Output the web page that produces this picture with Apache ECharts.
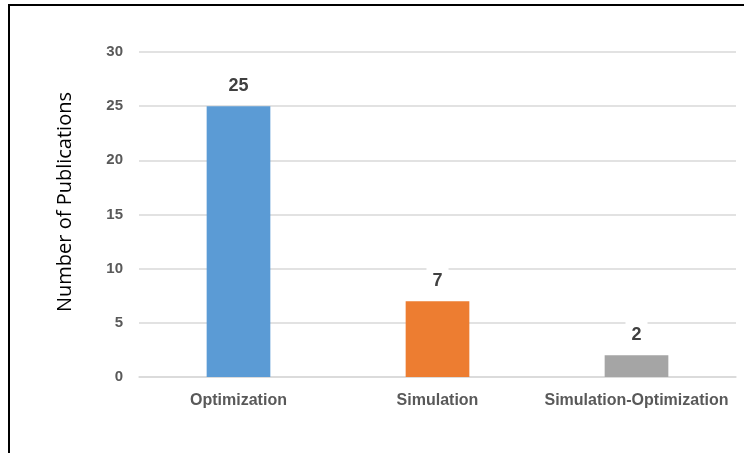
<!DOCTYPE html>
<html>
<head>
<meta charset="utf-8">
<script src="https://cdn.jsdelivr.net/npm/echarts@6/dist/echarts.min.js"></script>
<style>
  html, body { margin: 0; padding: 0; background: #fff; }
  #frame { position: absolute; left: 8px; top: 4px; width: 740px; height: 460px;
           border-left: 2px solid #000; border-top: 2px solid #000; }
  #chart { position: absolute; left: 0; top: 0; width: 744px; height: 453px; }
</style>
</head>
<body>
<div id="frame"></div>
<div id="chart"></div>
<script>
const categories = ['Optimization', 'Simulation', 'Simulation-Optimization'];
const publications = [25, 7, 2];
const barColors = ['#5B9BD5', '#ED7D31', '#A5A5A5'];
const yTicks = [0, 5, 10, 15, 20, 25, 30];
const yTitle = 'Number of Publications';

const chart = echarts.init(document.getElementById('chart'), null, { renderer: 'canvas' });
chart.setOption({
  animation: false,
  grid: { left: 139, right: 8, top: 52, bottom: 76 },
  graphic: [{
    type: 'text',
    x: 65,
    y: 202,
    rotation: Math.PI / 2,
    style: {
      text: yTitle,
      fill: '#000',
      fontSize: 20,
      fontFamily: 'Open Sans, sans-serif',
      align: 'center',
      verticalAlign: 'middle'
    }
  }],
  xAxis: {
    type: 'category',
    data: categories,
    axisLine: { lineStyle: { color: '#D9D9D9', width: 1.5 } },
    axisTick: { show: false },
    axisLabel: { interval: 0, color: '#595959', fontSize: 16, fontWeight: 'bold',
                 fontFamily: 'Liberation Sans, sans-serif', margin: 16 }
  },
  yAxis: {
    type: 'value',
    min: yTicks[0],
    max: yTicks[yTicks.length - 1],
    interval: 5,
    axisLine: { show: false },
    axisTick: { show: false },
    splitLine: { lineStyle: { color: '#D9D9D9', width: 1.5 } },
    axisLabel: { color: '#595959', fontSize: 15, fontWeight: 'bold',
                 fontFamily: 'Liberation Sans, sans-serif', margin: 16 }
  },
  series: [{
    type: 'bar',
    barWidth: '32%',
    z: 3,
    data: publications.map((v, i) => ({ value: v, itemStyle: { color: barColors[i] } })),
    label: {
      show: true,
      position: 'top',
      distance: 9,
      color: '#404040',
      fontSize: 18,
      fontWeight: 'bold',
      fontFamily: 'Liberation Sans, sans-serif',
      backgroundColor: '#fff',
      padding: [5, 6, 2, 6]
    }
  }]
});
</script>
</body>
</html>
